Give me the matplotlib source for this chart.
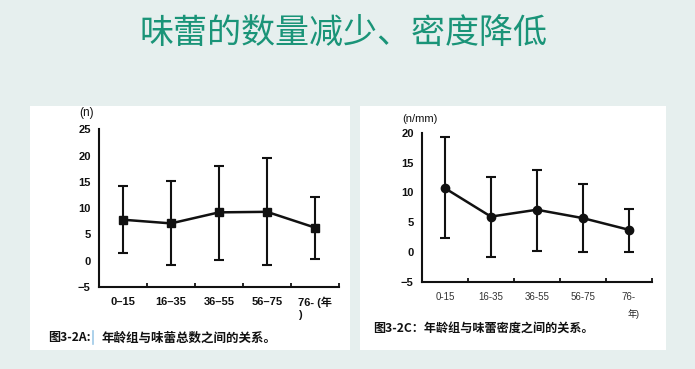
import matplotlib
matplotlib.use("Agg")
import matplotlib.pyplot as plt
from matplotlib.patches import Rectangle
from matplotlib.lines import Line2D

plt.rcParams['font.family'] = ['Liberation Sans', 'Noto Sans CJK SC', 'DejaVu Sans']

title = "味蕾的数量减少、密度降低"
categories_a = ["0–15", "16–35", "36–55", "56–75", "76- (年\n)"]
categories_c = ["0-15", "16-35", "36-55", "56-75", "76-"]

mean_a = [7.8, 7.1, 9.2, 9.3, 6.3]
upper_a = [14.2, 15.2, 18.1, 19.5, 12.2]
lower_a = [1.4, -0.9, 0.1, -0.9, 0.4]

mean_c = [10.7, 5.95, 7.1, 5.7, 3.75]
upper_c = [19.2, 12.5, 13.8, 11.4, 7.3]
lower_c = [2.4, -0.8, 0.2, 0.0, 0.1]

yticks_a = [-5, 0, 5, 10, 15, 20, 25]
yticks_c = [-5, 0, 5, 10, 15, 20]

W, H = 695, 369
fig = plt.figure(figsize=(W / 100, H / 100), dpi=100)
fig.patch.set_facecolor('#e6efee')

def fx(px):
    return px / W

def fy(py):
    return 1 - py / H

# white panels
fig.add_artist(Rectangle((fx(29.5), fy(349.5)), fx(350) - fx(29.5), fy(106) - fy(349.5),
                         transform=fig.transFigure, facecolor='white', edgecolor='none', zorder=0))
fig.add_artist(Rectangle((fx(360), fy(350)), fx(666) - fx(360), fy(106) - fy(350),
                         transform=fig.transFigure, facecolor='white', edgecolor='none', zorder=0))

fig.text(fx(343), fy(33), title, ha='center', va='center', fontsize=24.5, fontweight='light',
         color='#1a9478', family=['Noto Sans CJK SC'])


def draw(ax, mean, upper, lower, labels, yticks, ylim, marker, ms, lab_size, lab_weight, lab_color):
    x = list(range(len(mean)))
    yerr = [[m - l for m, l in zip(mean, lower)], [u - m for u, m in zip(upper, mean)]]
    ax.errorbar(x, mean, yerr=yerr, color='#111111', lw=1.8, elinewidth=1.5,
                capsize=3.6, capthick=1.5, marker=marker, ms=ms, mfc='#111111', mec='#111111')
    ax.set_xlim(-0.5, len(mean) - 0.5)
    ax.set_ylim(*ylim)
    ax.set_facecolor('none')
    for s in ['top', 'right']:
        ax.spines[s].set_visible(False)
    for s in ['left', 'bottom']:
        ax.spines[s].set_linewidth(1.5)
        ax.spines[s].set_color('#111111')
    ax.set_xticks(x)
    ax.set_xticklabels(labels)
    ax.set_xticks([i + 0.5 for i in x], minor=True)
    ax.set_yticks(yticks)
    ax.set_yticklabels([str(t).replace('-', '−') for t in yticks])
    ax.set_yticks([ylim[1]], minor=True)
    ax.tick_params(axis='x', which='major', length=0, pad=7, labelsize=lab_size, labelcolor=lab_color)
    ax.tick_params(axis='x', which='minor', direction='in', length=3, width=1.3, color='#111111')
    ax.tick_params(axis='y', which='major', length=0, pad=6, labelsize=lab_size, labelcolor=lab_color)
    ax.tick_params(axis='y', which='minor', direction='in', length=4, width=1.3, color='#111111')
    for t in ax.get_xticklabels() + ax.get_yticklabels():
        t.set_fontweight(lab_weight)
    return ax


ax1 = fig.add_axes([fx(99), fy(287), fx(339) - fx(99), fy(129.3) - fy(287)])
draw(ax1, mean_a, upper_a, lower_a, categories_a, yticks_a, (-5, 25), 's', 6, 8, 'bold', '#111111')
ax1.get_xticklabels()[-1].set_multialignment('left')

ax2 = fig.add_axes([fx(422), fy(282), fx(651.7) - fx(422), fy(132.7) - fy(282)])
draw(ax2, mean_c, upper_c, lower_c, categories_c, yticks_c, (-5, 20), 'o', 6, 7, 'normal', '#333333')
for t in ax2.get_yticklabels():
    t.set_fontweight('bold')
    t.set_fontsize(8)
    t.set_color('#111111')

fig.text(fx(87), fy(113), "(n)", ha='center', va='center', fontsize=8.5, color='#111111')
fig.text(fx(420), fy(119), "(n/mm)", ha='center', va='center', fontsize=8, color='#111111')
fig.text(fx(634), fy(314), "年)", ha='center', va='center', fontsize=6.5, color='#222222')

cap_font = ['Noto Sans CJK SC']
fig.text(fx(48), fy(338), "图3-2A:", ha='left', va='center', fontsize=8.7, fontweight='bold',
         family=cap_font, color='#111111')
fig.text(fx(101.5), fy(338), "年龄组与味蕾总数之间的关系。", ha='left', va='center', fontsize=9,
         fontweight='bold', family=cap_font, color='#111111')
fig.add_artist(Line2D([fx(93), fx(93)], [fy(344), fy(331)], transform=fig.transFigure,
                      color='#9ec9e8', lw=1.2))
fig.text(fx(373), fy(329), "图3-2C：年龄组与味蕾密度之间的关系。", ha='left', va='center',
         fontsize=8.7, fontweight='bold', family=cap_font, color='#111111')

fig.savefig('out.png', dpi=100, facecolor=fig.get_facecolor())
